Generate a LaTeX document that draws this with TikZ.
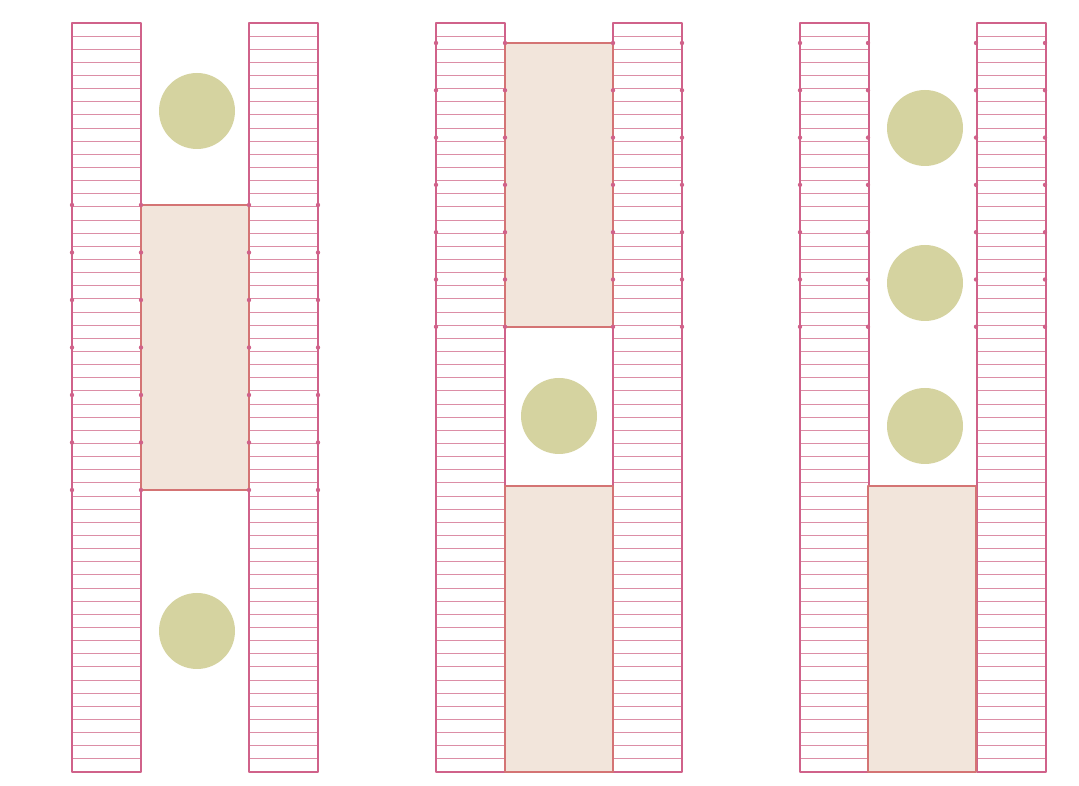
\documentclass[tikz,border=0pt]{standalone}
\definecolor{wallpink}{HTML}{D0628A}
\definecolor{hatchpink}{HTML}{DC8EA6}
\definecolor{plugfill}{HTML}{F2E5DB}
\definecolor{plugedge}{HTML}{D47474}
\definecolor{ballcol}{HTML}{D5D3A0}

\begin{document}
\begin{tikzpicture}[x=0.02cm,y=-0.02cm,line cap=round,line join=round,
  wall/.style={draw=wallpink,line width=1.2pt},
  hatch/.style={draw=hatchpink,line width=0.55pt},
  plug/.style={fill=plugfill,draw=plugedge,line width=1.4pt},
  ball/.style={fill=ballcol},
  pin/.style={fill=wallpink}]
  \useasboundingbox (0,0) rectangle (1079,786);
  \def\top{23}
  \def\bot{772}
  \def\cw{69}
  \def\gap{108}
  \def\rb{38}
  % two hatched walls per panel
  \foreach \ox in {72,436,800} {
    \foreach \k in {1,...,56} {
      \draw[hatch] (\ox,{\top+\k*13.14}) -- ({\ox+\cw},{\top+\k*13.14});
      \draw[hatch] ({\ox+\cw+\gap},{\top+\k*13.14}) -- ({\ox+2*\cw+\gap},{\top+\k*13.14});
    }
    \draw[wall] (\ox,\top) rectangle ({\ox+\cw},\bot);
    \draw[wall] ({\ox+\cw+\gap},\top) rectangle ({\ox+2*\cw+\gap},\bot);
  }
  % panel 1
  \draw[plug] (141,205) rectangle (249,490);
  \fill[ball] (197,111) circle[radius=\rb];
  \fill[ball] (197,631) circle[radius=\rb];
  % panel 2
  \draw[plug] (505,43) rectangle (613,327);
  \draw[plug] (505,486) rectangle (613,772);
  \fill[ball] (559,416) circle[radius=\rb];
  % panel 3
  \draw[plug] (868,486) rectangle (976,772);
  \fill[ball] (925,128) circle[radius=\rb];
  \fill[ball] (925,283) circle[radius=\rb];
  \fill[ball] (925,426) circle[radius=\rb];
  % small marks on the wall edges
  \foreach \j in {0,...,6} {
    \foreach \ex in {72,141,249,318}
      \fill[pin] (\ex,{205+\j*47.5}) circle[radius=2.2];
    \foreach \ex in {436,505,613,682,800,868,976,1045}
      \fill[pin] (\ex,{43+\j*47.3}) circle[radius=2.2];
  }
\end{tikzpicture}
\end{document}
